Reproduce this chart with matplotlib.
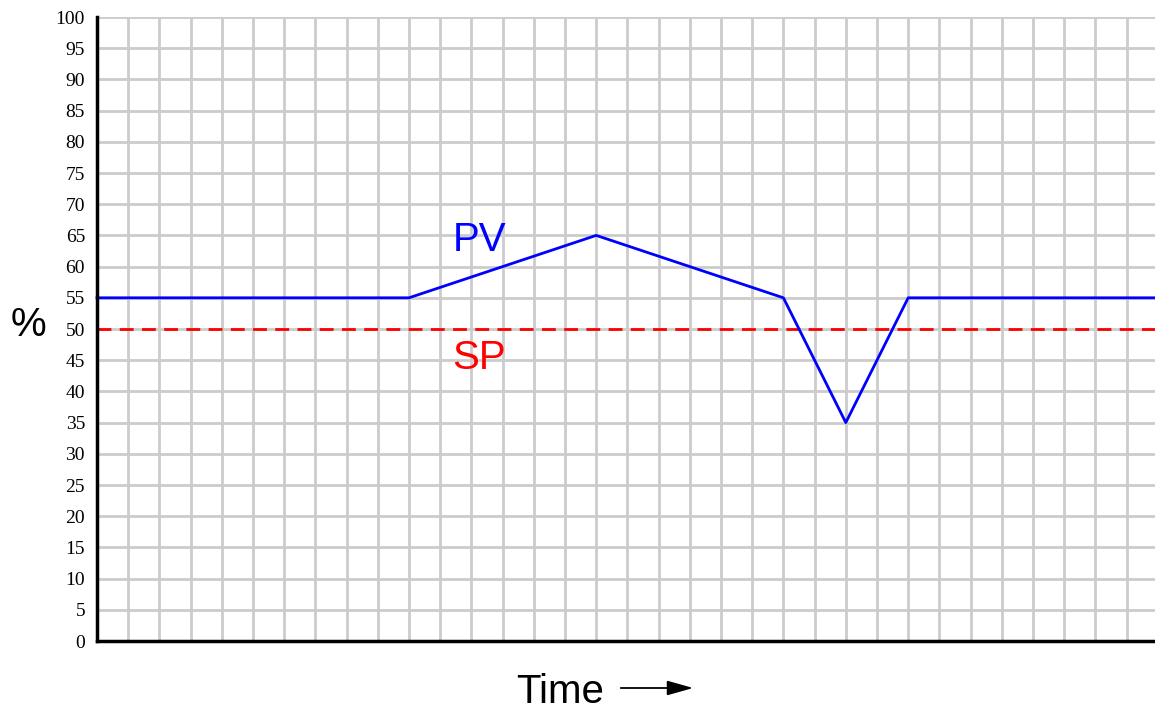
import numpy as np
import matplotlib.pyplot as plt

# PV trend (time in grid divisions, value in %)
pv_time = [0, 10, 16, 22, 24, 26, 34]
pv_value = [55, 55, 65, 55, 35, 55, 55]
sp_value = 50
y_ticks = list(range(0, 101, 5))

fig = plt.figure(figsize=(11.55, 7.11), dpi=100)
ax = fig.add_axes([97 / 1155, 70 / 711, 1 - 97 / 1155, 624 / 711])

x_max = (1155 - 97) / 31.2
ax.set_xlim(0, x_max)
ax.set_ylim(0, 100)

ax.set_xticks(np.arange(0, 34))
ax.set_yticks(y_ticks)
ax.grid(True, color='#cccccc', linewidth=2)
ax.set_axisbelow(True)
ax.tick_params(length=0, labelbottom=False)
ax.set_yticklabels([str(v) for v in y_ticks], family='Liberation Serif', fontsize=14)
ax.tick_params(axis='y', pad=8.6)

for s in ['top', 'right']:
    ax.spines[s].set_visible(False)
ax.spines['left'].set_linewidth(2.5)
ax.spines['bottom'].set_linewidth(2.5)

ax.axhline(sp_value, color='red', linewidth=2, linestyle=(0, (5, 3)))
ax.plot(pv_time, pv_value, color='blue', linewidth=2, clip_on=False)

ax.text(12.25, 64.2, 'PV', color='blue', fontsize=29, family='Liberation Sans',
        ha='center', va='center')
ax.text(12.25, 45.3, 'SP', color='red', fontsize=29, family='Liberation Sans',
        ha='center', va='center')

fig.text(28 / 1155, 1 - 325 / 711, '%', fontsize=29, family='Liberation Sans',
         ha='center', va='center')
fig.text(560 / 1155, 1 - 692 / 711, 'Time', fontsize=29, family='Liberation Sans',
         ha='center', va='center')
fig.add_artist(plt.matplotlib.patches.FancyArrowPatch(
    (618 / 1155, 1 - 688 / 711), (696 / 1155, 1 - 688 / 711),
    transform=fig.transFigure, arrowstyle='-|>,head_length=16,head_width=4.5',
    color='black', linewidth=1.3, mutation_scale=1))

fig.savefig('out.png', dpi=100)
